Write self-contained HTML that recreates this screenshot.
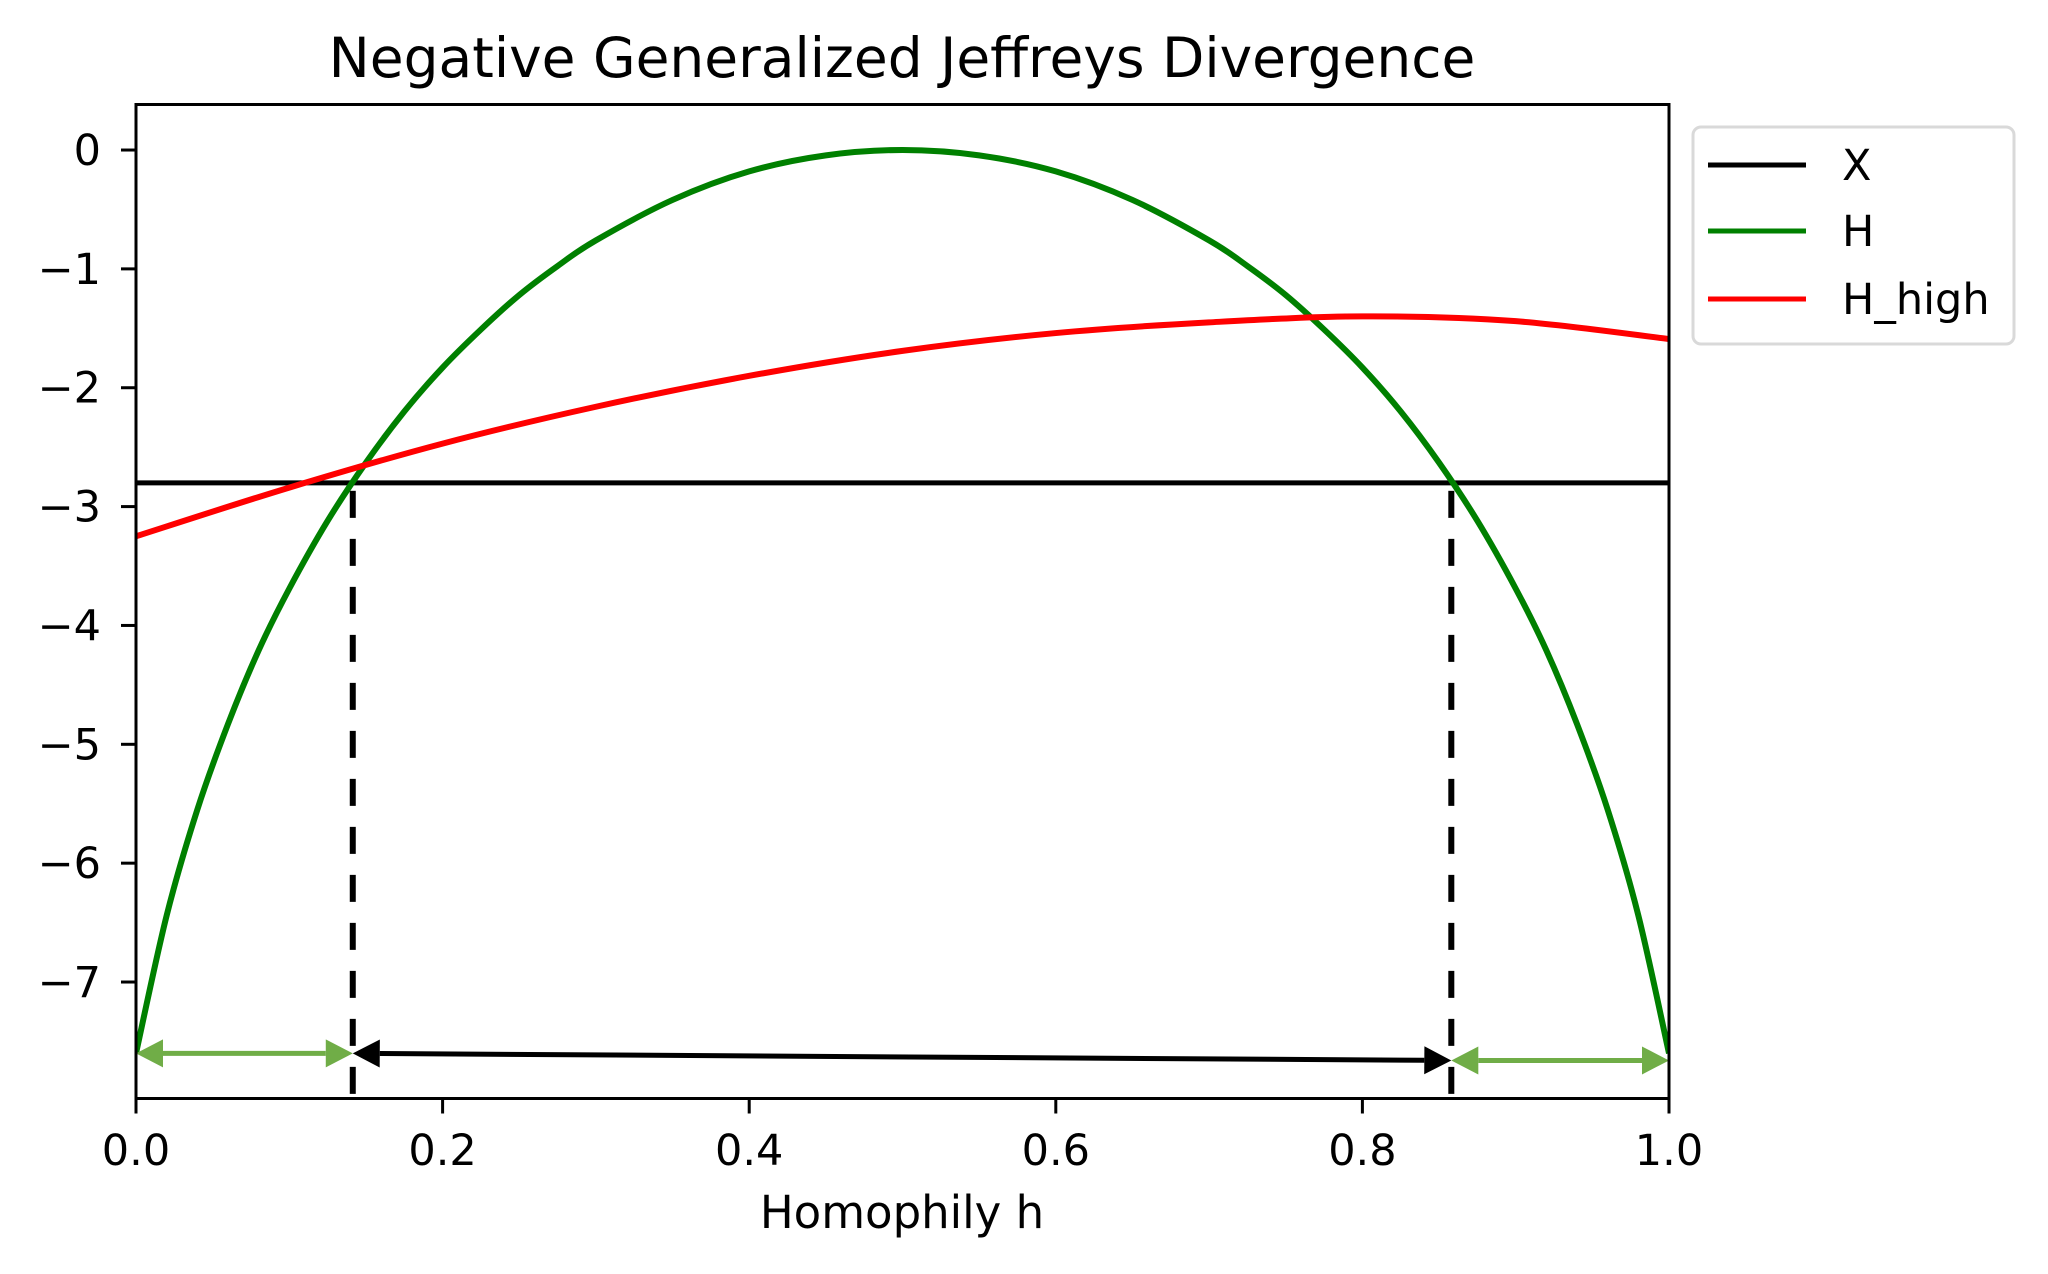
<!DOCTYPE html>
<html><head><meta charset="utf-8"><style>
html,body{margin:0;padding:0;background:#fff;}
svg{display:block;font-family:"DejaVu Sans","Liberation Sans",sans-serif;}
</style></head><body>
<svg id="chart" width="2048" height="1274" viewBox="0 0 2048 1274" xmlns="http://www.w3.org/2000/svg">
<text x="902" y="77" font-size="55" text-anchor="middle">Negative Generalized Jeffreys Divergence</text>
<text x="902" y="1228" font-size="45" text-anchor="middle">Homophily h</text>
<g id="plot"></g>
<g id="legend">
<rect x="1693" y="127" width="321" height="217" rx="8" fill="#fff" stroke="#d9d9d9" stroke-width="3"/>
<line x1="1708" y1="165" x2="1806" y2="165" stroke="#000" stroke-width="5"/>
<text x="1842" y="180" font-size="43">X</text>
<line x1="1708" y1="231" x2="1806" y2="231" stroke="#008000" stroke-width="5"/>
<text x="1842" y="246" font-size="43">H</text>
<line x1="1708" y1="299" x2="1806" y2="299" stroke="#ff0000" stroke-width="5"/>
<text x="1842" y="314" font-size="43">H_high</text>
</g>
</svg>
<script>
const hGreen = [0, 0.02, 0.04, 0.06, 0.08, 0.1, 0.125, 0.15, 0.175, 0.2, 0.225, 0.25, 0.275, 0.3, 0.35, 0.4, 0.45, 0.5, 0.55, 0.6, 0.65, 0.7, 0.725, 0.75, 0.775, 0.8, 0.825, 0.85, 0.875, 0.9, 0.92, 0.94, 0.96, 0.98, 1.0];
const vGreen = [-7.6, -6.44, -5.55, -4.83, -4.21, -3.69, -3.12, -2.63, -2.20, -1.83, -1.51, -1.22, -0.976, -0.76, -0.42, -0.18, -0.045, 0, -0.045, -0.18, -0.42, -0.76, -0.976, -1.22, -1.51, -1.83, -2.20, -2.63, -3.12, -3.69, -4.21, -4.83, -5.55, -6.44, -7.6];
const hRed = [0, 0.1, 0.2, 0.3, 0.4, 0.5, 0.6, 0.7, 0.8, 0.9, 1.0];
const vRed = [-3.25, -2.84, -2.47, -2.16, -1.90, -1.69, -1.54, -1.45, -1.40, -1.44, -1.59];
const xLevel = -2.8;
const crossings = [0.1414, 0.858];
const arrowLevels = [-7.60, -7.66];
const xTicks = [0, 0.2, 0.4, 0.6, 0.8, 1.0];
const xTickLabels = ["0.0", "0.2", "0.4", "0.6", "0.8", "1.0"];
const yTicks = [0, -1, -2, -3, -4, -5, -6, -7];
const yTickLabels = ["0", "\u22121", "\u22122", "\u22123", "\u22124", "\u22125", "\u22126", "\u22127"];

const L = 136, R = 1669, T = 104.5, B = 1098.5;
const yMax = 0.383, yMin = -7.98;
const sx = v => L + (v - 0) / (1 - 0) * (R - L);
const sy = v => T + (yMax - v) / (yMax - yMin) * (B - T);
const NS = "http://www.w3.org/2000/svg";
const plot = document.getElementById('plot');
function mk(tag, attrs, parent) {
  const e = document.createElementNS(NS, tag);
  for (const k in attrs) e.setAttribute(k, attrs[k]);
  (parent || plot).appendChild(e);
  return e;
}
function smoothPath(xs, ys) {
  const p = xs.map((x, i) => [sx(x), sy(ys[i])]);
  let d = `M${p[0][0]},${p[0][1]}`;
  for (let i = 0; i < p.length - 1; i++) {
    const p0 = p[Math.max(0, i - 1)], p1 = p[i], p2 = p[i + 1], p3 = p[Math.min(p.length - 1, i + 2)];
    const c1x = p1[0] + (p2[0] - p0[0]) / 6, c1y = p1[1] + (p2[1] - p0[1]) / 6;
    const c2x = p2[0] - (p3[0] - p1[0]) / 6, c2y = p2[1] - (p3[1] - p1[1]) / 6;
    d += ` C${c1x},${c1y} ${c2x},${c2y} ${p2[0]},${p2[1]}`;
  }
  return d;
}
const defs = mk('defs', {});
const cp = mk('clipPath', {id: 'clip'}, defs);
mk('rect', {x: L, y: T, width: R - L, height: B - T}, cp);
const g = mk('g', {'clip-path': 'url(#clip)'});



const xl = mk('line', {x1: sx(0), x2: sx(1), y1: sy(xLevel), y2: sy(xLevel), stroke: '#000', 'stroke-width': 5}, g);



const gp = mk('path', {d: smoothPath(hGreen, vGreen), fill: 'none', stroke: '#008000', 'stroke-width': 6}, g);



const rp = mk('path', {d: smoothPath(hRed, vRed), fill: 'none', stroke: '#ff0000', 'stroke-width': 6}, g);



crossings.forEach((c, i) => {
  const dl = mk('line', {x1: sx(c), x2: sx(c), y1: sy(xLevel) + 8, y2: B, stroke: '#000', 'stroke-width': 6, 'stroke-dasharray': '27,21'});
  
  
});

function arrow(x1, y1, x2, y2, color, name) {
  const a = sx(x1), b = sy(y1), c = sx(x2), d = sy(y2);
  const ang = Math.atan2(d - b, c - a), len = 27, hw = 14;
  const ux = Math.cos(ang), uy = Math.sin(ang);
  const ln = mk('line', {x1: a + ux * len, y1: b + uy * len, x2: c - ux * len, y2: d - uy * len, stroke: color, 'stroke-width': 5});
  
  
  const head = (px, py, dx, dy) => {
    const bx = px - dx * len, by = py - dy * len;
    const h = mk('polygon', {points: `${px},${py} ${bx - dy * hw},${by + dx * hw} ${bx + dy * hw},${by - dx * hw}`, fill: color});
    
    
  };
  head(c, d, ux, uy);
  head(a, b, -ux, -uy);
}
arrow(0, arrowLevels[0], crossings[0], arrowLevels[0], '#70ad47', 'low-range-arrow');
arrow(crossings[0], arrowLevels[0], crossings[1], arrowLevels[1], '#000', 'middle-range-arrow');
arrow(crossings[1], arrowLevels[1], 1, arrowLevels[1], '#70ad47', 'high-range-arrow');

const fr = mk('rect', {x: L, y: T, width: R - L, height: B - T, fill: 'none', stroke: '#000', 'stroke-width': 3});



xTicks.forEach((t, i) => {
  const tk = mk('line', {x1: sx(t), x2: sx(t), y1: B, y2: B + 15, stroke: '#000', 'stroke-width': 3});
  
  
  const tx = mk('text', {x: sx(t), y: 1165, 'font-size': 43, 'text-anchor': 'middle'});
  tx.textContent = xTickLabels[i];
  
  
});
yTicks.forEach((t, i) => {
  const tk = mk('line', {x1: L - 15, x2: L, y1: sy(t), y2: sy(t), stroke: '#000', 'stroke-width': 3});
  
  
  const tx = mk('text', {x: 101, y: sy(t) + 15, 'font-size': 43, 'text-anchor': 'end'});
  tx.textContent = yTickLabels[i];
  
  
});
</script>
</body></html>
